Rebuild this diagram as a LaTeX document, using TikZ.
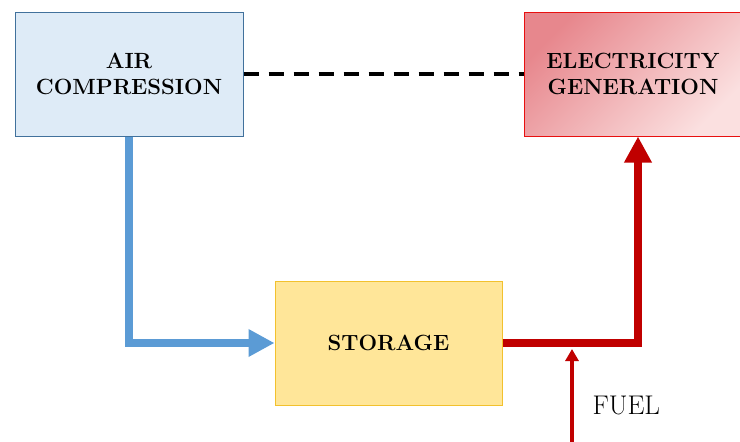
\documentclass[tikz,border=0pt]{standalone}
\usetikzlibrary{arrows.meta}

\definecolor{airfill}{HTML}{DEEBF7}
\definecolor{airline}{HTML}{41719C}
\definecolor{storefill}{HTML}{FFE699}
\definecolor{storeline}{HTML}{F2C12E}
\definecolor{elecline}{HTML}{E81010}
\definecolor{elecdark}{HTML}{E7878D}
\definecolor{eleclight}{HTML}{FBE0E0}
\definecolor{flowblue}{HTML}{5B9BD5}
\definecolor{flowred}{HTML}{C00000}

\begin{document}
\begin{tikzpicture} [x=1pt,y=-1pt,
			block/.style={draw,line width=1pt,inner sep=0pt,align=center,
				font=\fontsize{22}{26}\selectfont\bfseries},
			air block/.style={block,fill=airfill,draw=airline,minimum width=228pt,minimum height=124pt},
			store block/.style={block,fill=storefill,draw=storeline,minimum width=227pt,minimum height=124pt},
			elec block/.style={block,draw=elecline,top color=elecdark,bottom color=eleclight,
				shading angle=45,minimum width=218pt,minimum height=124pt},
			blue flow/.style={draw=flowblue,line width=8pt,-{Triangle[length=26pt,width=26pt]}},
			red flow/.style={draw=flowred,line width=8pt,-{Triangle[length=26pt,width=26pt]}},
			fuel flow/.style={draw=flowred,line width=3.5pt,-{Triangle[length=12pt,width=13pt]}}]

		\useasboundingbox (0,0) rectangle (740,442);

		\node [air block] (air) at (129,74) {AIR\\COMPRESSION};
		\node [elec block] (elec) at (633,74) {ELECTRICITY\\GENERATION};
		\node [store block] (store) at (388.5,343) {STORAGE};

		\coordinate (bend1) at (129,343);
		\coordinate (bend2) at (638,343);
		\coordinate (elecin) at (638,136.5);
		\coordinate (fuelin) at (572,442);
		\coordinate (fuelout) at (572,349);

		\draw [dashed,line width=3.5pt,dash pattern=on 15pt off 10pt] (air.east) -- (elec.west);
		\draw [blue flow] (air.south -| bend1) -- (bend1) -- (store.west);
		\draw [red flow] (store.east) -- (bend2) -- (elecin);
		\draw [fuel flow] (fuelin) -- (fuelout);
		\node [font=\fontsize{27}{32}\selectfont,anchor=west] (fuel) at (589,405) {FUEL};

		\end{tikzpicture}
\end{document}
